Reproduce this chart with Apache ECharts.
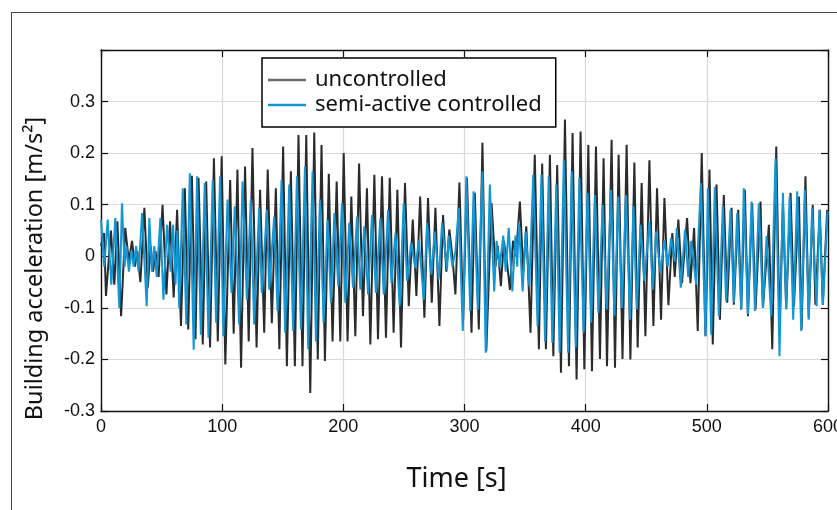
<!DOCTYPE html>
<html>
<head>
<meta charset="utf-8">
<script src="https://cdn.jsdelivr.net/npm/echarts@6/dist/echarts.min.js"></script>
<style>
  html, body { margin: 0; padding: 0; background: #fff; }
  #frame { position: absolute; left: 11px; top: 12px; width: 840px; height: 520px; border-left: 1.5px solid #444; border-top: 1.5px solid #444; }
  #chart { position: absolute; left: 0; top: 0; width: 837px; height: 510px; }
</style>
</head>
<body>
<div id="frame"></div>
<div id="chart"></div>
<script>
// ---- data ----
const seriesNames = ['uncontrolled', 'semi-active controlled'];
const xTicks = [0, 100, 200, 300, 400, 500, 600];
const yTicks = [-0.3, -0.2, -0.1, 0, 0.1, 0.2, 0.3];

const uncTime = [0,2.5,4.1,8.2,11.0,13.5,16.6,20.0,23.0,25.6,28.0,30.0,32.5,35.8,38.6,41.0,43.0,45.0,47.5,50.8,54.0,57.0,60.0,62.8,66.0,69.2,72.0,75.0,78.0,80.5,84.0,86.8,90.0,93.2,96.4,99.6,102.6,106.6,109.5,112.6,115.6,118.9,121.9,125.0,128.4,131.3,134.7,137.6,141.0,144.3,147.2,150.3,153.4,156.7,160.0,163.0,166.3,169.4,172.7,176.0,178.9,182.0,184.8,188.0,191.1,194.5,197.5,200.3,203.5,206.6,209.9,213.0,216.2,219.5,222.3,225.6,228.6,231.9,235.2,238.3,241.5,244.6,247.6,250.9,254.0,257.3,260.3,263.4,266.9,269.9,273.0,276.0,279.3,282.3,285.0,287.5,290.0,292.5,295.8,298.9,302.0,305.8,308.5,311.8,314.8,318.0,322.3,325.5,327.5,330.0,332.5,335.0,337.5,340.0,342.5,345.7,348.5,351.0,354.5,358.0,361.4,364.1,367.2,370.5,373.3,376.5,379.6,382.9,386.2,389.2,392.5,395.8,398.9,402.2,405.2,408.5,411.8,414.8,417.6,421.4,424.2,427.2,430.4,433.8,436.9,440.2,442.9,446.2,449.3,452.6,455.9,458.9,462.2,465.0,468.3,471.5,473.5,476.5,479.5,483.7,486.5,489.5,492.5,495.8,498.9,502.2,504.9,508.0,510.8,514.0,516.8,520.4,522.3,525.9,528.4,531.4,533.9,537.4,540.2,544.3,546.3,551.2,554.0,557.3,560.0,562.8,565.5,569.1,571.9,576.0,578.2,581.4,584.1,587.4,589.6,593.2,595.7,599.3];
const uncAcc = [0.02,0.045,-0.077,0.05,-0.055,0.068,-0.116,0.055,-0.01,0.03,-0.02,0.01,-0.05,0.094,-0.061,0.02,-0.03,0.01,-0.04,0.1,-0.074,0.068,-0.08,0.09,-0.135,0.132,-0.142,0.156,-0.161,0.152,-0.171,0.145,-0.177,0.19,-0.165,0.194,-0.21,0.148,-0.15,0.168,-0.216,0.174,-0.165,0.21,-0.177,0.129,-0.148,0.168,-0.13,0.132,-0.18,0.213,-0.213,0.165,-0.213,0.235,-0.213,0.235,-0.265,0.24,-0.2,0.216,-0.203,0.16,-0.165,0.145,-0.165,0.2,-0.165,0.116,-0.155,0.18,-0.116,0.132,-0.171,0.158,-0.161,0.155,-0.158,0.152,-0.148,0.129,-0.177,0.142,-0.097,0.071,-0.077,0.116,-0.119,0.113,-0.09,0.094,-0.135,0.08,-0.03,0.052,0.0,-0.074,0.143,-0.123,0.152,-0.148,0.123,-0.142,0.22,-0.184,0.103,-0.02,0.02,-0.058,0.03,-0.01,-0.065,0.03,0.0,0.106,-0.03,0.058,-0.148,0.197,-0.18,0.18,-0.18,0.197,-0.194,0.177,-0.226,0.265,-0.213,0.239,-0.239,0.242,-0.219,0.216,-0.223,0.213,-0.199,0.19,-0.213,0.226,-0.216,0.197,-0.199,0.216,-0.2,0.182,-0.177,0.142,-0.155,0.186,-0.135,0.132,-0.123,0.113,-0.095,0.045,-0.04,0.071,-0.052,0.074,-0.052,0.055,-0.145,0.2,-0.155,0.168,-0.171,0.139,-0.123,0.119,-0.09,0.094,-0.094,0.09,-0.103,0.129,-0.116,0.103,-0.103,0.106,-0.1,0.061,-0.18,0.213,-0.142,0.103,-0.1,0.123,-0.097,0.116,-0.142,0.155,-0.119,0.1,-0.094,0.09,-0.094,0.09];

const semiTime = [0,2.7,5.5,8.5,11.8,15.1,17.3,19.5,21.0,23.0,25.0,27.0,29.0,31.0,33.9,37.7,39.9,42.0,44.0,46.0,49.0,51.5,54.5,57.5,59.5,61.5,63.0,64.5,67.5,70.4,73.3,76.5,79.3,82.4,85.6,88.7,92.2,95.0,98.3,101.0,104.4,107.7,110.4,114.0,116.8,120.4,123.6,126.4,130.5,132.7,136.9,138.8,142.9,145.7,149.0,152.0,155.3,158.6,161.7,165.0,168.3,171.0,174.6,177.4,180.7,183.7,187.0,189.8,192.6,195.8,198.9,201.6,204.9,208.0,211.3,214.0,217.3,220.4,223.7,226.9,230.5,233.3,236.9,239.7,243.0,246.5,249.8,252.6,255.9,259.5,262.3,266.4,269.1,272.7,275.4,278.7,281.5,285.6,287.0,290.0,292.5,295.3,298.6,301.5,304.7,307.5,311.0,314.8,317.5,320.9,324.5,326.5,329.0,332.0,334.0,336.5,339.5,342.0,343.5,344.9,348.0,350.5,353.5,356.7,360.3,363.5,366.5,369.5,372.5,375.8,378.5,382.0,385.5,388.5,391.8,394.8,398.3,401.6,404.5,407.6,410.5,414.0,417.3,420.9,423.7,426.9,429.9,433.3,436.6,439.4,442.2,445.2,448.4,452.6,455.4,458.1,461.7,465.0,467.7,470.5,473.5,475.2,478.5,482.0,484.6,487.1,491.2,495.1,498.9,500.8,503.6,506.6,509.9,513.2,515.9,519.5,522.3,525.0,528.4,530.5,533.9,536.9,539.7,542.9,546.3,549.3,553.1,556.7,560.0,562.8,565.5,568.3,571.3,574.6,577.9,580.9,584.1,586.9,590.6,593.0,595.8,599.7];
const semiAcc = [0.071,-0.02,0.071,-0.055,0.074,-0.1,0.103,-0.02,0.02,-0.03,0.01,-0.02,0.02,-0.03,0.084,-0.097,0.074,-0.03,0.02,-0.04,0.074,-0.084,0.061,-0.03,0.061,-0.055,0.05,-0.1,0.132,-0.132,0.161,-0.181,0.155,-0.152,0.142,-0.158,0.148,-0.129,0.155,-0.155,0.11,-0.071,0.097,-0.132,0.145,-0.084,0.11,-0.132,0.094,-0.071,0.09,-0.065,0.077,-0.106,0.148,-0.148,0.139,-0.145,0.155,-0.142,0.174,-0.18,0.165,-0.165,0.11,-0.129,0.071,-0.09,0.084,-0.058,0.103,-0.09,0.065,-0.061,0.077,-0.065,0.058,-0.074,0.08,-0.071,0.074,-0.074,0.09,-0.052,0.045,-0.097,0.103,-0.048,0.026,-0.023,0.032,-0.084,0.065,-0.035,0.048,-0.045,0.065,-0.026,0.04,-0.02,0.01,0.094,-0.145,0.155,-0.106,0.126,-0.103,0.165,-0.187,0.139,-0.068,0.03,-0.02,0.04,-0.03,0.055,-0.068,0.04,-0.02,0.065,-0.068,0.048,-0.058,0.158,-0.135,0.158,-0.165,0.155,-0.168,0.139,-0.187,0.187,-0.187,0.165,-0.177,0.152,-0.148,0.123,-0.129,0.119,-0.11,0.1,-0.103,0.129,-0.116,0.116,-0.1,0.119,-0.123,0.097,-0.103,0.061,-0.048,0.068,-0.065,0.048,-0.032,0.032,-0.02,0.035,-0.01,0.055,-0.061,0.052,-0.04,0.03,-0.055,0.142,-0.155,0.132,-0.152,0.135,-0.116,0.097,-0.087,0.09,-0.09,0.084,-0.103,0.132,-0.113,0.106,-0.106,0.103,-0.1,0.039,-0.116,0.19,-0.194,0.123,-0.103,0.116,-0.123,0.126,-0.145,0.129,-0.123,0.094,-0.097,0.09,-0.094,0.087];

// ---- chart ----
const zip = (t, v) => t.map((x, i) => [x, v[i]]);
const tickFont = "'Liberation Sans Narrow', 'Arial Narrow', 'Liberation Sans', Arial, sans-serif";
const titleFont = "'Noto Sans', 'Open Sans', sans-serif";
const xMin = xTicks[0], xMax = xTicks[xTicks.length - 1];
const yMin = yTicks[0], yMax = 0.4, yStep = 0.1;

const chart = echarts.init(document.getElementById('chart'), null, { renderer: 'canvas' });
const axisLine = { show: true, onZero: false, lineStyle: { color: '#111', width: 1.4 } };
const tick = { show: true, inside: true, length: 7, lineStyle: { color: '#111', width: 1.2 } };

chart.setOption({
  animation: false,
  backgroundColor: 'transparent',
  grid: { left: 101, right: 9, top: 50, bottom: 99, containLabel: false, outerBoundsMode: 'none' },
  legend: {
    orient: 'vertical',
    left: 262, top: 58,
    backgroundColor: '#fff',
    borderColor: '#000', borderWidth: 1.5,
    padding: [10, 14, 10, 6],
    itemGap: 1,
    itemWidth: 38, itemHeight: 2.5,
    icon: 'rect',
    textStyle: { fontFamily: titleFont, fontSize: 22, color: '#111', lineHeight: 24, padding: [0, 0, 0, 4] },
    data: [
      { name: seriesNames[0], itemStyle: { color: '#6b6b6b' } },
      { name: seriesNames[1], itemStyle: { color: '#1297d6' } }
    ]
  },
  xAxis: [
    {
      type: 'value', position: 'bottom', min: xMin, max: xMax, interval: 100,
      name: 'Time [s]', nameLocation: 'middle', nameGap: 55,
      nameTextStyle: { fontFamily: titleFont, fontSize: 27, color: '#111', padding: [0, 16, 0, 0] },
      axisLine: axisLine, axisTick: tick,
      axisLabel: { fontFamily: tickFont, fontSize: 18, color: '#111', margin: 7 },
      splitLine: { show: true, lineStyle: { color: '#dadada', width: 1.2 } }
    },
    {
      type: 'value', position: 'top', min: xMin, max: xMax, interval: 100,
      axisLine: axisLine, axisTick: tick, axisLabel: { show: false }, splitLine: { show: false }
    }
  ],
  yAxis: [
    {
      type: 'value', position: 'left', min: yMin, max: yMax, interval: yStep,
      name: 'Building acceleration [m/s²]', nameLocation: 'middle', nameGap: 54,
      nameTextStyle: { fontFamily: titleFont, fontSize: 23.5, color: '#111', padding: [0, 76, 0, 0] },
      axisLine: axisLine, axisTick: tick,
      axisLabel: {
        fontFamily: tickFont, fontSize: 18, color: '#111', margin: 6,
        formatter: v => (v > 0.35 ? '' : String(Math.round(v * 10) / 10))
      },
      splitLine: { show: true, lineStyle: { color: '#dadada', width: 1.2 } }
    },
    {
      type: 'value', position: 'right', min: yMin, max: yMax, interval: yStep,
      axisLine: axisLine, axisTick: tick, axisLabel: { show: false }, splitLine: { show: false }
    }
  ],
  series: [
    {
      name: seriesNames[0], type: 'line', xAxisIndex: 0, yAxisIndex: 0,
      data: zip(uncTime, uncAcc), showSymbol: false, smooth: false,
      lineStyle: { color: '#2b2b2b', width: 2 }, itemStyle: { color: '#2b2b2b' }, z: 2
    },
    {
      name: seriesNames[1], type: 'line', xAxisIndex: 0, yAxisIndex: 0,
      data: zip(semiTime, semiAcc), showSymbol: false, smooth: false,
      lineStyle: { color: '#1297d6', width: 2 }, itemStyle: { color: '#1297d6' }, z: 3
    }
  ]
});
</script>
</body>
</html>
